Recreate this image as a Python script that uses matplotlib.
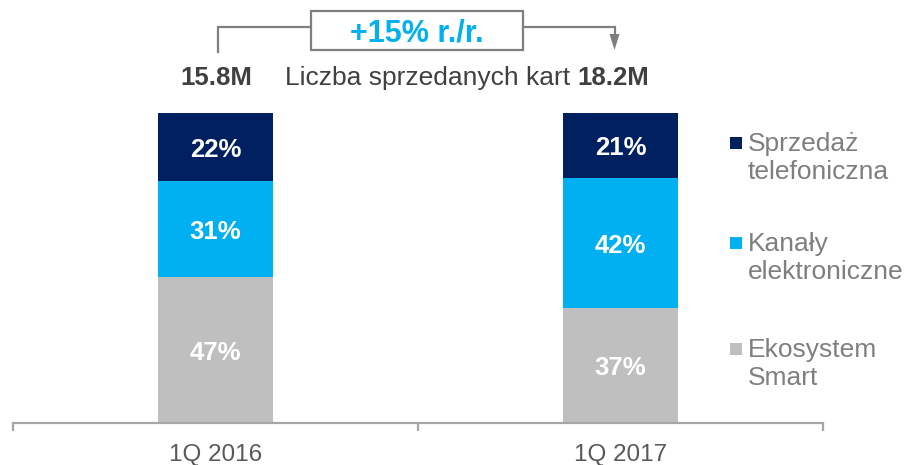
import matplotlib
matplotlib.use("Agg")
import matplotlib.pyplot as plt
from matplotlib.patches import Rectangle, Polygon
from matplotlib.lines import Line2D
from matplotlib.transforms import blended_transform_factory, offset_copy

plt.rcParams['font.family'] = ['Liberation Sans', 'DejaVu Sans']

categories = ["1Q 2016", "1Q 2017"]
series_names = ["Ekosystem\nSmart", "Kanały\nelektroniczne", "Sprzedaż\ntelefoniczna"]
ekosystem = [47, 37]
kanaly = [31, 42]
sprzedaz = [22, 21]
totals = ["15.8M", "18.2M"]
header_label = "Liczba sprzedanych kart"
growth_label = "+15% r./r."

colors = ["#BFBFBF", "#00B0F0", "#002060"]

W, H = 905, 465
fig = plt.figure(figsize=(W / 100, H / 100), dpi=100)

def fx(px):
    return px / W

def fy(py):
    return 1 - py / H

ax_left, ax_right = 13, 823
ax_top, ax_bottom = 113, 423
ax = fig.add_axes([fx(ax_left), fy(ax_bottom), fx(ax_right - ax_left), (ax_bottom - ax_top) / H])

x = list(range(len(categories)))
bottom = [0, 0]
for vals, col in zip([ekosystem, kanaly, sprzedaz], colors):
    ax.bar(x, vals, bottom=bottom, width=0.284, color=col, edgecolor='none')
    for xi, v, b in zip(x, vals, bottom):
        ax.text(xi, b + v / 2, f"{v}%", ha='center', va='center_baseline', color='white',
                fontsize=18.5, fontweight='bold')
    bottom = [b + v for b, v in zip(bottom, vals)]

ax.set_xlim(-0.5, len(categories) - 0.5)
ax.set_ylim(0, 100)
for s in ['top', 'right', 'left']:
    ax.spines[s].set_visible(False)
ax.spines['bottom'].set_color('#A6A6A6')
ax.spines['bottom'].set_linewidth(1.6)
ax.set_yticks([])
ax.set_xticks([-0.5, 0.5, 1.5])
ax.set_xticklabels([])
ax.tick_params(axis='x', which='major', length=6, width=1.6, color='#A6A6A6')
ax.set_xticks(x, minor=True)
ax.set_xticklabels(categories, minor=True, fontsize=17.5, color='#595959')
ax.tick_params(axis='x', which='minor', length=0, pad=15)

# header texts
bt = blended_transform_factory(ax.transData, fig.transFigure)
ax.text(0, fy(78), totals[0], transform=offset_copy(bt, fig=fig, x=1, units='dots'),
        ha='center', va='center', fontsize=18.5, fontweight='bold', color='#404040')
ax.text(1, fy(78), totals[1], transform=offset_copy(bt, fig=fig, x=-7, units='dots'),
        ha='center', va='center', fontsize=18.5, fontweight='bold', color='#404040')
fig.text(fx(570), fy(78), header_label, ha='right', va='center', fontsize=19, color='#404040')

# bracket
gray = '#7F7F7F'
box_l, box_r, box_t, box_b = 311, 523, 11, 50
line_y = 27
left_x = ax.transData.transform((0, 0))[0] + 2
right_x = ax.transData.transform((1, 0))[0] - 6
fig.add_artist(Line2D([fx(left_x), fx(left_x), fx(box_l)], [fy(52), fy(line_y), fy(line_y)],
                      color=gray, lw=1.6, solid_joinstyle='miter'))
fig.add_artist(Line2D([fx(box_r), fx(right_x), fx(right_x)], [fy(line_y), fy(line_y), fy(36)],
                      color=gray, lw=1.6, solid_joinstyle='miter'))
fig.add_artist(Polygon([[fx(right_x - 5), fy(34)], [fx(right_x + 5), fy(34)], [fx(right_x), fy(50)]],
                       closed=True, facecolor=gray, edgecolor='none'))
fig.add_artist(Rectangle((fx(box_l), fy(box_b)), fx(box_r - box_l), (box_b - box_t) / H,
                         facecolor='white', edgecolor=gray, lw=1.6))
fig.text(fx((box_l + box_r) / 2), fy(33), growth_label, ha='center', va='center',
         fontsize=22, fontweight='bold', color='#00B0F0')

# legend (manual)
leg_y = [143, 243, 349]
for name, col, py in zip(reversed(series_names), reversed(colors), leg_y):
    fig.add_artist(Rectangle((fx(730), fy(py + 6)), fx(12), 12 / H, facecolor=col, edgecolor='none'))
    fig.text(fx(748), fy(py - 11), name, ha='left', va='top', fontsize=19,
             color='#7F7F7F', linespacing=1.22)

fig.savefig("out.png", dpi=100)
